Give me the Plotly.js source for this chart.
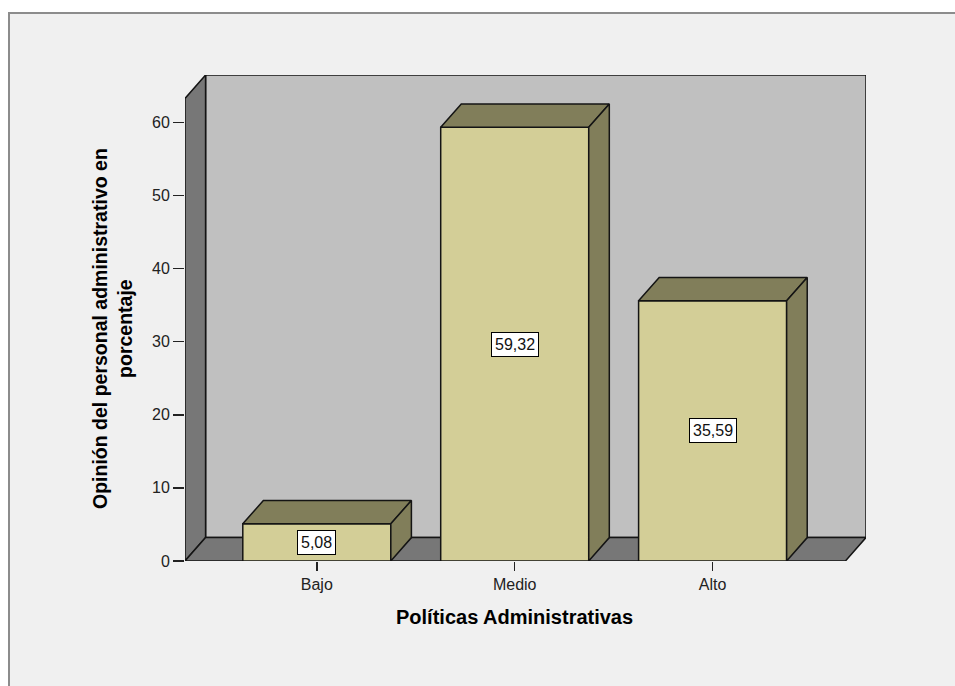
<!DOCTYPE html>
<html>
<head>
<meta charset="utf-8">
<script src="https://cdn.plot.ly/plotly-3.0.1.min.js"></script>
<style>
  html, body { margin: 0; padding: 0; background: #ffffff; }
  #frame {
    position: absolute; left: 8px; top: 12px; width: 947px; height: 674px;
    background: #f0f0f0; border-left: 2px solid #8c8c8c; border-top: 2px solid #8c8c8c;
    box-sizing: border-box;
  }
  #chart { position: absolute; left: 0; top: 0; width: 955px; height: 686px; }
</style>
</head>
<body>
<div id="frame"></div>
<div id="chart"></div>
<script>
// Data
const categories = ['Bajo', 'Medio', 'Alto'];
const percentages = [5.08, 59.32, 35.59];
const valueLabels = ['5,08', '59,32', '35,59'];
const yTicks = [0, 10, 20, 30, 40, 50, 60];

// Pseudo-3D geometry (in axis units)
const X_RANGE = [-0.666, 2.775];
const Y_RANGE = [0, 66.47];
const DEPTH_X = 0.104;   // horizontal depth offset
const DEPTH_Y = 3.2;     // vertical depth offset
const BAR_W = 0.748;

const EDGE = '#141414';
const FRONT = '#d3ce97';
const SHADE = '#817e5a';
const WALL = '#777777';
const BACK = '#c0c0c0';
const FONT = 'Liberation Sans, Arial, sans-serif';

const xs = categories.map((_, i) => i);

// Back wall, left wall and floor as layout shapes under the traces
function path(pts) {
  return 'M' + pts.map(p => p[0] + ',' + p[1]).join(' L') + ' Z';
}
const x0 = X_RANGE[0], x1 = X_RANGE[1], yTop = Y_RANGE[1];
const shapes = [
  { type: 'path', layer: 'below', xref: 'x', yref: 'y', fillcolor: BACK,
    line: { color: EDGE, width: 1.5 },
    path: path([[x0 + DEPTH_X, DEPTH_Y], [x1, DEPTH_Y], [x1, yTop], [x0 + DEPTH_X, yTop]]) },
  { type: 'path', layer: 'below', xref: 'x', yref: 'y', fillcolor: WALL,
    line: { color: EDGE, width: 1.5 },
    path: path([[x0, 0], [x0, yTop - DEPTH_Y], [x0 + DEPTH_X, yTop], [x0 + DEPTH_X, DEPTH_Y]]) },
  { type: 'path', layer: 'below', xref: 'x', yref: 'y', fillcolor: WALL,
    line: { color: EDGE, width: 1.5 },
    path: path([[x0, 0], [x1 - DEPTH_X, 0], [x1, DEPTH_Y], [x0 + DEPTH_X, DEPTH_Y]]) }
];

const traces = [];

// Top and side faces of each bar
xs.forEach((c, i) => {
  const v = percentages[i];
  const l = c - BAR_W / 2, r = c + BAR_W / 2;
  traces.push({
    type: 'scatter', mode: 'lines', fill: 'toself', fillcolor: SHADE,
    line: { color: EDGE, width: 1.5 }, hoverinfo: 'skip', showlegend: false,
    x: [l, r, r + DEPTH_X, l + DEPTH_X, l],
    y: [v, v, v + DEPTH_Y, v + DEPTH_Y, v]
  });
  traces.push({
    type: 'scatter', mode: 'lines', fill: 'toself', fillcolor: SHADE,
    line: { color: EDGE, width: 1.5 }, hoverinfo: 'skip', showlegend: false,
    x: [r, r + DEPTH_X, r + DEPTH_X, r, r],
    y: [0, DEPTH_Y, v + DEPTH_Y, v, 0]
  });
});

// Front faces
traces.push({
  type: 'bar', x: xs, y: percentages, width: BAR_W,
  marker: { color: FRONT, line: { color: EDGE, width: 1.5 } },
  hoverinfo: 'x+y', showlegend: false
});

const annotations = xs.map((c, i) => ({
  x: c, y: percentages[i] / 2, xref: 'x', yref: 'y',
  text: valueLabels[i], showarrow: false,
  bgcolor: '#ffffff', bordercolor: '#000000', borderwidth: 1, borderpad: 3,
  font: { family: FONT, size: 16, color: '#111111' }
}));

// Axis titles
annotations.push({
  xref: 'paper', yref: 'paper', x: (514.5 - 185) / 681, y: -(617 - 561) / 486,
  text: '<b>Políticas Administrativas</b>', showarrow: false,
  xanchor: 'center', yanchor: 'middle',
  font: { family: FONT, size: 20, color: '#000000' }
});
annotations.push({
  xref: 'paper', yref: 'paper', x: (112 - 185) / 681, y: (561 - 329) / 486,
  text: '<b>Opinión del personal administrativo en<br>porcentaje</b>', showarrow: false,
  textangle: -90, xanchor: 'center', yanchor: 'middle',
  font: { family: FONT, size: 19.5, color: '#000000' }
});

const layout = {
  width: 955, height: 686,
  margin: { l: 185, r: 89, t: 75, b: 125 },
  paper_bgcolor: 'rgba(0,0,0,0)', plot_bgcolor: 'rgba(0,0,0,0)',
  showlegend: false,
  xaxis: {
    range: X_RANGE, tickvals: xs, ticktext: categories,
    ticks: 'outside', ticklen: 9, tickwidth: 1.5, tickcolor: '#222222',
    showgrid: false, zeroline: false, showline: false, fixedrange: true,
    tickfont: { family: FONT, size: 16, color: '#222222' }
  },
  yaxis: {
    range: Y_RANGE, tickvals: yTicks,
    ticks: 'outside', ticklen: 11, tickwidth: 1.5, tickcolor: '#222222',
    showgrid: false, zeroline: false, showline: false, fixedrange: true,
    tickfont: { family: FONT, size: 16, color: '#222222' }
  },
  shapes: shapes,
  annotations: annotations
};

Plotly.newPlot('chart', traces, layout, { displayModeBar: false, staticPlot: true });
</script>
</body>
</html>
